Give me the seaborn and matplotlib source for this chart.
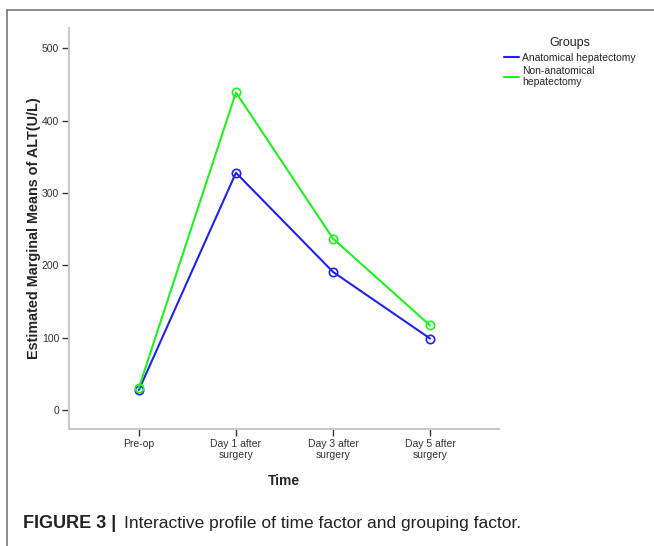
import seaborn as sns
import matplotlib.pyplot as plt
import pandas as pd
from matplotlib.lines import Line2D

# values
times = ["Pre-op", "Day 1 after\nsurgery", "Day 3 after\nsurgery", "Day 5 after\nsurgery"]
anatomical = [28, 328, 191, 99]
non_anatomical = [31, 439, 237, 117]
groups = ["Anatomical hepatectomy", "Non-anatomical\nhepatectomy"]
colors = ["#2222ee", "#22ee22"]

df = pd.DataFrame({
    "Time": times * 2,
    "ALT": anatomical + non_anatomical,
    "Group": [groups[0]] * 4 + [groups[1]] * 4,
})

sns.set_style("white")
plt.rcParams["font.family"] = ["Liberation Sans", "DejaVu Sans"]

fig = plt.figure(figsize=(6.54, 5.46), dpi=100)
ax = fig.add_axes([0.1055, 0.2143, 0.6575, 0.7344])

sns.lineplot(
    data=df, x="Time", y="ALT", hue="Group", palette=colors,
    marker="o", ms=6, mew=1.2, linewidth=1.5,
    sort=False, legend=False, ax=ax,
)
# hollow circles in the line colour
for ln in ax.lines:
    ln.set_markerfacecolor("none")
    ln.set_markeredgecolor(ln.get_color())

ax.set_xlim(-0.72, 3.71)
ax.set_ylim(-26, 528)
ax.set_yticks([0, 100, 200, 300, 400, 500])
ax.set_xticks(range(4))
ax.set_xticklabels(times)
ax.tick_params(axis="both", direction="out", length=5, width=1, color="#333333",
               labelsize=7.5, labelcolor="#333333", left=True, bottom=True, pad=2)

for side in ["top", "right"]:
    ax.spines[side].set_visible(False)
for side in ["left", "bottom"]:
    ax.spines[side].set_color("#c8c8c8")
    ax.spines[side].set_linewidth(1.5)

ax.set_ylabel("Estimated Marginal Means of ALT(U/L)", fontsize=10.4, fontweight="bold", labelpad=1)
ax.set_xlabel("Time", fontsize=10, fontweight="bold", labelpad=10)

handles = [Line2D([], [], color=c, linewidth=1.5) for c in colors]
leg = ax.legend(handles, groups, title="Groups", loc="upper left",
                bbox_to_anchor=(0.99, 1.0), frameon=False, fontsize=7.5,
                title_fontsize=9, handlelength=1.45, handletextpad=0.3,
                labelspacing=0.3)
leg._legend_box.align = "center"

# outer frame (left and top edges)
fig.add_artist(Line2D([0.0107, 0.0107], [0, 0.982], color="#777777", linewidth=1.2))
fig.add_artist(Line2D([0.0107, 1.0], [0.982, 0.982], color="#777777", linewidth=1.2))

fig.text(0.035, 0.033, "FIGURE 3 |", fontsize=13, fontweight="bold", color="#222222")
fig.text(0.19, 0.033, "Interactive profile of time factor and grouping factor.",
         fontsize=12.5, color="#222222")

fig.savefig("out.png", dpi=100)
